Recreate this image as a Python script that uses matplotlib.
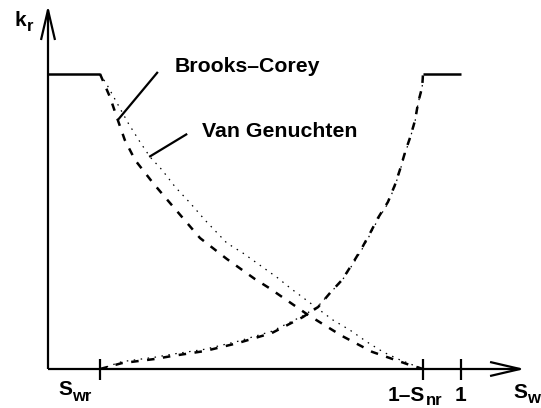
import matplotlib.pyplot as plt

plt.rcParams['font.family'] = ['Liberation Sans', 'DejaVu Sans']
plt.rcParams['font.weight'] = 'bold'

# end points of the mobile range
s_wr = 0.126
s_nr = 0.092

# Brooks-Corey, non-wetting phase (falling curve)
bc_n_s = [0.126, 0.150, 0.169, 0.186, 0.211, 0.254, 0.283, 0.368, 0.433,
          0.501, 0.535, 0.630, 0.712, 0.785, 0.869, 0.908]
bc_n_kr = [1.000, 0.922, 0.844, 0.776, 0.708, 0.631, 0.583, 0.444, 0.373,
           0.305, 0.275, 0.183, 0.112, 0.058, 0.017, 0.000]

# Van Genuchten, non-wetting phase
vg_n_s = [0.126, 0.143, 0.167, 0.194, 0.223, 0.247, 0.276, 0.308, 0.344,
          0.380, 0.433, 0.472, 0.516, 0.557, 0.586, 0.690, 0.731, 0.772,
          0.811, 0.852, 0.908, 1.000]
vg_n_kr = [1.000, 0.963, 0.902, 0.834, 0.769, 0.719, 0.675, 0.617, 0.563,
           0.505, 0.427, 0.393, 0.349, 0.308, 0.275, 0.166, 0.132, 0.092,
           0.058, 0.031, 0.000, 0.000]

# wetting phase (rising curve), both models nearly coincide
bc_w_s = [0.126, 0.179, 0.259, 0.300, 0.380, 0.460, 0.542, 0.617, 0.654,
          0.683, 0.712, 0.738, 0.760, 0.780, 0.799, 0.823, 0.840, 0.852,
          0.864, 0.877, 0.889, 0.896, 0.906, 0.908]
bc_w_kr = [0.000, 0.020, 0.034, 0.044, 0.061, 0.088, 0.122, 0.176, 0.210,
           0.258, 0.302, 0.359, 0.410, 0.461, 0.512, 0.566, 0.624, 0.675,
           0.732, 0.786, 0.844, 0.902, 0.956, 1.000]
vg_w_s = bc_w_s
vg_w_kr = [0.000, 0.025, 0.040, 0.050, 0.067, 0.094, 0.128, 0.180, 0.213,
           0.258, 0.300, 0.355, 0.405, 0.456, 0.507, 0.561, 0.620, 0.671,
           0.728, 0.783, 0.841, 0.900, 0.955, 1.000]

fig = plt.figure(figsize=(5.41, 4.08), dpi=100)
ax = fig.add_axes([0, 0, 1, 1])
ax.set_xlim(-48 / 413, 493 / 413)
ax.set_ylim(-39 / 295, 369 / 295)
ax.axis('off')

k = dict(color='black', solid_capstyle='butt')

# axes with open arrow heads
x_end, y_end = 1.143, 1.217
hx, hy = 30 / 413, 7 / 295
ax.plot([0, x_end], [0, 0], lw=1.6, **k)
ax.plot([x_end - hx, x_end, x_end - hx], [hy, 0, -hy], lw=1.6, **k)
ax.plot([0, 0], [0, y_end], lw=1.6, **k)
ax.plot([-hy * 295 / 413, 0, hy * 295 / 413], [y_end - 30 / 295, y_end, y_end - 30 / 295], lw=1.6, **k)

# ticks
for t in [s_wr, 1 - s_nr, 1.0]:
    ax.plot([t, t], [-0.037, 0.034], lw=1.6, **k)

# flat parts outside the mobile range
ax.plot([0, s_wr], [1, 1], lw=1.8, **k)
ax.plot([1 - s_nr, 1.0], [1, 1], lw=1.8, **k)

# curves
ax.plot(bc_n_s, bc_n_kr, color='black', lw=1.8, ls=(0, (3.0, 3.4)))
ax.plot(bc_w_s, bc_w_kr, color='black', lw=1.8, ls=(0, (3.0, 3.4)))
ax.plot(vg_n_s, vg_n_kr, color='black', lw=0.9, ls=(0, (1.2, 4.4)))
ax.plot(vg_w_s, vg_w_kr, color='black', lw=0.9, ls=(0, (1.2, 4.4)))

# labels with leader lines
ax.plot([0.266, 0.169], [1.007, 0.844], lw=1.6, **k)
ax.plot([0.337, 0.245], [0.797, 0.719], lw=1.6, **k)
ax.text(0.3075, 1.007, 'Brooks\u2013Corey', fontsize=15.3, va='baseline')
ax.text(0.373, 0.786, 'Van Genuchten', fontsize=15.3, va='baseline')

# axis names and tick labels, subscripts set by hand
big, small = 15, 12
ax.text(-0.080, 1.163, 'k', fontsize=big, va='baseline')
ax.text(-0.0508, 1.146, 'r', fontsize=small, va='baseline')
ax.text(0.0242, -0.0881, 'S', fontsize=big, va='baseline')
ax.text(0.0581, -0.1085, 'wr', fontsize=small, va='baseline')
ax.text(0.823, -0.1085, '1\u2013S', fontsize=big, va='baseline')
ax.text(0.915, -0.122, 'nr', fontsize=small, va='baseline')
ax.text(1.0, -0.1085, '1', fontsize=big, ha='center', va='baseline')
ax.text(1.126, -0.0983, 'S', fontsize=big, va='baseline')
ax.text(1.160, -0.115, 'w', fontsize=small, va='baseline')

fig.savefig('out.png', dpi=100)
